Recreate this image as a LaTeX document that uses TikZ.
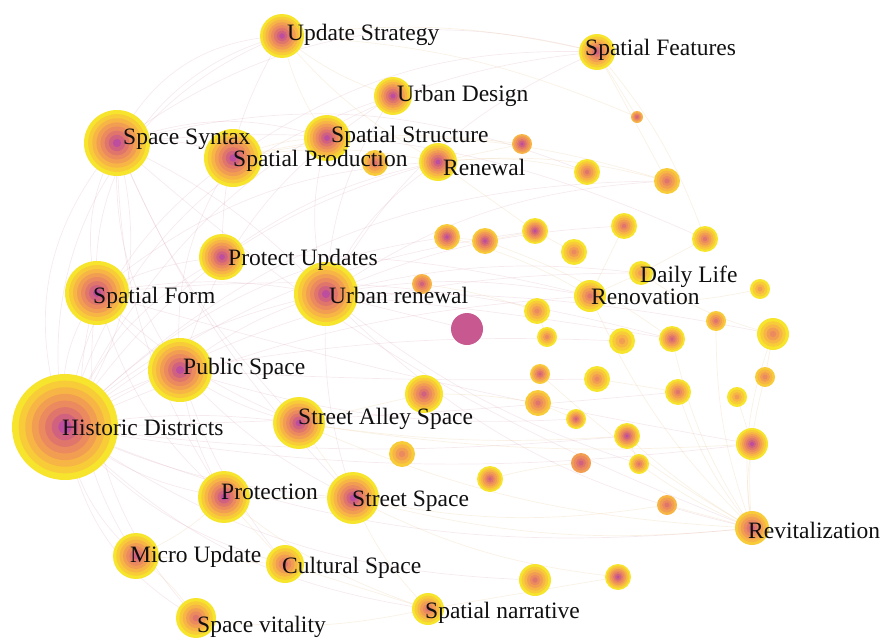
\documentclass[tikz,border=0pt]{standalone}
\usepackage{fontspec}
\setmainfont{Liberation Serif}
\definecolor{kc0}{HTML}{F6E52C}
\definecolor{kc1}{HTML}{F8CC38}
\definecolor{kc2}{HTML}{F7B545}
\definecolor{kc3}{HTML}{F29E52}
\definecolor{kc4}{HTML}{EB8A5E}
\definecolor{kc5}{HTML}{E0756C}
\definecolor{kc6}{HTML}{D0617F}
\definecolor{kc7}{HTML}{BD4D9E}
\definecolor{mgc}{HTML}{C85890}
\definecolor{edgeA}{HTML}{D7A0B4}
\definecolor{edgeB}{HTML}{E8C89A}
\definecolor{txt}{HTML}{101010}
\newcommand\kw[6]{%
  \coordinate (#1) at (#2,#3);
  \pgfmathtruncatemacro\kwn{#6-#5+1}%
  \foreach \i in {#5,...,#6}{%
    \pgfmathsetmacro\kwr{#4*(1-(\i-#5)/\kwn)}%
    \fill[kc\i] (#1) circle[radius=\kwr pt];
  }}
\tikzset{
  edge/.style={draw=edgeA, opacity=0.22, line width=0.7pt},
  edgey/.style={draw=edgeB, opacity=0.26, line width=0.7pt},
  lbl/.style={anchor=base west, inner sep=0pt, text=txt, font=\fontsize{23.5}{26}\selectfont},
}
\begin{document}
\begin{tikzpicture}[x=1pt,y=-1pt]
\useasboundingbox (0,0) rectangle (880,642);
% node positions (coordinates first so edges can be drawn beneath)
\foreach \n/\x/\y in {us/282/36, sfe/597/52, ud/393/96, ss/117/143, sst/327/138, sp/233/158, n1/375/163, rn/438/162,
  pu/222/257, sf/97/293, ur/326/294, n2/422/284, mg/467/329, ps/180/370, hd/65/427, sas/299/423, n3/424/394, n4/402/454,
  pr/224/497, stsp/353/498, n5/490/479, mu/136/556, cs/285/564, sv/196/618, sn/428/609, n6/535/580, n7/618/577,
  rv/752/528, dl/641/273, ro/590/296, n8/637/117, n9/522/144, n10/587/172, n11/667/181, n12/447/237, n13/485/241,
  n14/535/231, n15/624/226, n16/574/252, n17/705/239, n18/537/311, n19/547/337, n20/622/341, n21/672/339, n22/716/321,
  n23/760/289, n24/773/334, n25/540/374, n26/597/379, n27/678/392, n28/737/397, n29/765/377, n30/538/403, n31/576/419,
  n32/627/436, n33/752/444, n34/581/463, n35/639/464, n36/667/505}
  {\coordinate (\n) at (\x,\y);}
% edges
\foreach \a/\b/\c in {hd/ss/30, hd/sf/20, hd/ps/10, hd/ur/15, hd/pu/18, hd/sp/22, hd/us/40, hd/sas/8, hd/pr/-14, hd/stsp/-10,
  hd/mu/-18, hd/cs/-16, hd/sv/-25, hd/sn/-18, hd/rv/-14, hd/ro/10, hd/dl/15, hd/n12/18, hd/n14/15, hd/n33/-8, hd/n32/-6,
  hd/n27/-2, hd/n6/-16, hd/ud/28, hd/rn/20, hd/sfe/30, hd/n11/22,
  ss/sf/-20, ss/ps/-18, ss/us/30, ss/sp/15, ss/sst/18, ss/ur/10, ss/sas/-10, ss/stsp/-10, ss/pr/-16, ss/n10/18, ss/n17/15,
  ss/sfe/25, ss/rv/-10, ss/hd/25,
  sf/ps/-10, sf/ur/10, sf/pu/10, sf/sas/-10, sf/pr/-16, sf/mu/-25, sf/sv/-25, sf/us/40, sf/n21/10, sf/n33/-3, sf/rn/18,
  ps/ur/10, ps/sas/-10, ps/pr/-10, ps/stsp/-10, ps/cs/-10, ps/sp/18, ps/n26/-2, ps/n31/-10, ps/n20/6, ps/ud/20,
  ur/sst/15, ur/ud/15, ur/rn/15, ur/ro/10, ur/dl/10, ur/rv/-16, ur/n24/6, ur/n21/2, ur/n15/10, ur/n11/15, ur/sfe/18,
  ur/n35/-10, ur/stsp/-10, ur/mg/0, pu/us/15, pu/rn/12, pu/ro/8, sp/sfe/18}
  {\draw[edge] (\a) to[bend left=\c] (\b);}
\foreach \a/\b/\c in {us/sfe/10, us/ud/-10, us/sst/-10, us/n8/10, us/rn/-10, sp/sst/10, sp/rn/10, sp/n9/10, sp/n11/14,
  sas/stsp/0, sas/rv/-10, sas/n33/-6, sas/n32/-6, sas/n3/0, pr/stsp/0, pr/mu/10, pr/cs/0, pr/sn/-10,
  stsp/sn/-10, stsp/n7/-10, stsp/rv/-10, stsp/n36/-10, mu/cs/0, mu/sv/10, cs/sn/0, sv/sn/-10, sn/n7/0,
  rv/n33/10, rv/n24/14, rv/n29/10, rv/n27/10, rv/n32/6, rv/n35/6, rv/n36/0, rv/n25/6, rv/n22/10, rv/n21/10, rv/ro/10,
  ro/dl/0, ro/n15/0, ro/n23/-10, dl/n17/0, dl/n24/-10, rn/n10/10, rn/n11/10, rn/n9/0, rn/n14/0, sfe/n11/0, sfe/n17/10,
  sfe/n8/0, n12/n13/0, n13/n14/0, n14/n16/0, n18/n19/0, n26/n27/0, n30/n31/0, n32/n35/0, n28/n33/0, n29/n24/0,
  n3/n30/5, n5/n34/5, n12/ro/8, n13/n21/8, n2/n18/5}
  {\draw[edgey] (\a) to[bend left=\c] (\b);}
% keyword circles
\kw{us}{282}{36}{22}{0}{7}
\kw{sfe}{597}{52}{18}{0}{6}
\kw{ud}{393}{96}{19}{0}{7}
\kw{ss}{117}{143}{33}{0}{7}
\kw{sst}{327}{138}{23}{0}{7}
\kw{sp}{233}{158}{29}{0}{7}
\kw{n1}{375}{163}{13}{1}{5}
\kw{rn}{438}{162}{19}{0}{7}
\kw{pu}{222}{257}{23}{0}{7}
\kw{sf}{97}{293}{32}{0}{7}
\kw{ur}{326}{294}{32}{0}{7}
\kw{n2}{422}{284}{10}{2}{6}
\fill[mgc] (mg) circle[radius=16pt];
\kw{ps}{180}{370}{32}{0}{7}
\kw{hd}{65}{427}{53}{0}{7}
\kw{sas}{299}{423}{26}{0}{7}
\kw{n3}{424}{394}{19}{0}{6}
\kw{n4}{402}{454}{13}{1}{4}
\kw{pr}{224}{497}{26}{0}{7}
\kw{stsp}{353}{498}{26}{0}{7}
\kw{n5}{490}{479}{13}{0}{6}
\kw{mu}{136}{556}{23}{0}{6}
\kw{cs}{285}{564}{19}{0}{5}
\kw{sv}{196}{618}{20}{0}{5}
\kw{sn}{428}{609}{16}{0}{5}
\kw{n6}{535}{580}{16}{0}{5}
\kw{n7}{618}{577}{13}{0}{7}
\kw{rv}{752}{528}{17}{1}{6}
\kw{dl}{641}{273}{12}{0}{3}
\kw{ro}{590}{296}{16}{0}{5}
\kw{n8}{637}{117}{6}{2}{6}
\kw{n9}{522}{144}{10}{2}{7}
\kw{n10}{587}{172}{13}{0}{5}
\kw{n11}{667}{181}{13}{1}{5}
\kw{n12}{447}{237}{13}{1}{7}
\kw{n13}{485}{241}{13}{1}{7}
\kw{n14}{535}{231}{13}{0}{7}
\kw{n15}{624}{226}{13}{0}{5}
\kw{n16}{574}{252}{13}{0}{4}
\kw{n17}{705}{239}{13}{0}{5}
\kw{n18}{537}{311}{13}{0}{4}
\kw{n19}{547}{337}{10}{0}{4}
\kw{n20}{622}{341}{13}{0}{3}
\kw{n21}{672}{339}{13}{0}{6}
\kw{n22}{716}{321}{10}{1}{5}
\kw{n23}{760}{289}{10}{0}{3}
\kw{n24}{773}{334}{16}{0}{4}
\kw{n25}{540}{374}{10}{1}{6}
\kw{n26}{597}{379}{13}{0}{4}
\kw{n27}{678}{392}{13}{0}{5}
\kw{n28}{737}{397}{10}{0}{3}
\kw{n29}{765}{377}{10}{1}{4}
\kw{n30}{538}{403}{13}{1}{5}
\kw{n31}{576}{419}{10}{0}{6}
\kw{n32}{627}{436}{13}{0}{7}
\kw{n33}{752}{444}{16}{0}{7}
\kw{n34}{581}{463}{10}{3}{6}
\kw{n35}{639}{464}{10}{0}{5}
\kw{n36}{667}{505}{10}{2}{5}
% labels
\node[lbl] (us-l) at (287,41) {Update Strategy};
\node[lbl] (sfe-l) at (585,56) {Spatial Features};
\node[lbl] (ud-l) at (397,101) {Urban Design};
\node[lbl] (ss-l) at (123,144) {Space Syntax};
\node[lbl] (sst-l) at (331,142) {Spatial Structure};
\node[lbl] (sp-l) at (233,166) {Spatial Production};
\node[lbl] (rn-l) at (443,175) {Renewal};
\node[lbl] (pu-l) at (228,265) {Protect Updates};
\node[lbl] (dl-l) at (640,282) {Daily Life};
\node[lbl] (sf-l) at (93,303) {Spatial Form};
\node[lbl] (ur-l) at (329,303) {Urban renewal};
\node[lbl] (ro-l) at (591,304) {Renovation};
\node[lbl] (ps-l) at (183,374) {Public Space};
\node[lbl] (sas-l) at (298,424) {Street Alley Space};
\node[lbl] (hd-l) at (62,435) {Historic Districts};
\node[lbl] (pr-l) at (221,499) {Protection};
\node[lbl] (stsp-l) at (352,506) {Street Space};
\node[lbl] (rv-l) at (748,538) {Revitalization};
\node[lbl] (mu-l) at (130,562) {Micro Update};
\node[lbl] (cs-l) at (282,573) {Cultural Space};
\node[lbl] (sn-l) at (425,618) {Spatial narrative};
\node[lbl] (sv-l) at (197,632) {Space vitality};
\end{tikzpicture}
\end{document}
